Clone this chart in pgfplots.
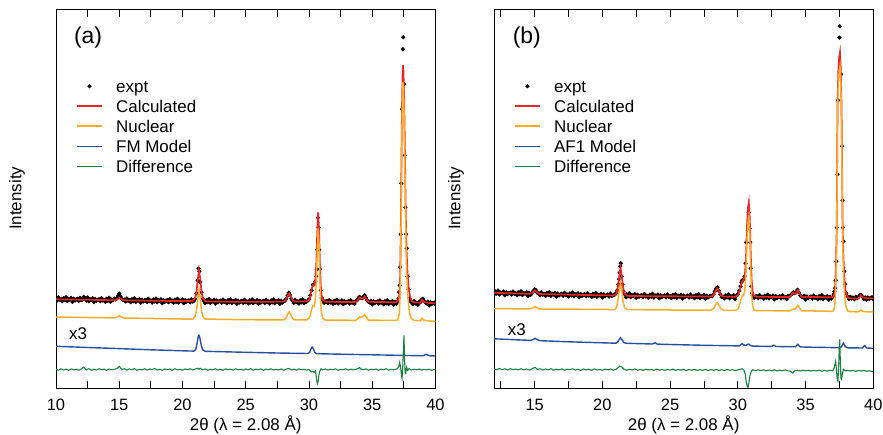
\documentclass[border=0pt]{standalone}
\usepackage{fontspec}
\setmainfont{Liberation Sans}
\usepackage{pgfplots}
\pgfplotsset{compat=1.18}
\definecolor{cred}{RGB}{232,40,40}
\definecolor{corange}{RGB}{255,172,40}
\definecolor{cblue}{RGB}{42,78,158}
\definecolor{cgreen}{RGB}{24,130,64}
\pgfplotsset{
  /pgf/number format/assume math mode=true,
  panel/.style={
    scale only axis, width=379.5bp, height=378.5bp,
    ymin=0, ymax=378.5, xmax=40, ytick=\empty,
    clip marker paths=true,
    xtick pos=both, tick align=inside,
    major tick length=7bp, minor tick length=7bp,
    tick style={black, line width=0.8bp},
    axis line style={black, line width=0.9bp},
    tick label style={font=\fontsize{16.5}{19}\selectfont},
    xticklabel style={yshift=-7bp},
    legend cell align=left,
    legend image code/.code={\draw[##1] (0bp,0bp) -- (25bp,0bp);},
    legend style={at={(0.0527,0.825)}, anchor=north west, draw=none, fill=none,
      inner sep=0pt, row sep=0pt,
      font=\fontsize{17}{20}\selectfont,
      nodes={inner sep=0pt, text height=16bp, text depth=4bp},
      /tikz/every odd column/.append style={column sep=13.3bp}},
  },
  dots/.style={only marks, mark=*, mark size=1.9bp, black,
    legend image code/.code={\draw[##1] plot coordinates {(12.5bp,0bp)};}},
}
\begin{document}
\begin{tikzpicture}
\path[use as bounding box] (-56bp,-46.7bp) rectangle (827bp,388.3bp);
% ---------------- panel (a)
\begin{axis}[panel, xmin=10, xtick={10,15,...,40}, minor xtick={12.5,17.5,...,37.5}]
\addplot[dots] coordinates {(10.0,89.8)(10.1,87.8)(10.2,90.9)(10.3,88.5)(10.4,89.1)(10.5,87.1)(10.6,90.2)(10.7,88.2)(10.8,91.1)(10.9,87.3)(11.0,89.3)(11.1,88.7)(11.2,90.4)(11.3,86.5)(11.4,89.6)(11.5,87.8)(11.6,89.0)(11.7,89.5)(11.8,87.4)(11.9,90.5)(12.0,88.2)(12.1,88.8)(12.2,91.5)(12.3,89.8)(12.4,87.8)(12.5,90.8)(12.6,87.0)(12.7,89.0)(12.8,88.3)(12.9,90.0)(13.0,86.2)(13.1,89.3)(13.2,87.5)(13.3,88.6)(13.4,89.1)(13.5,87.1)(13.6,90.2)(13.7,87.9)(13.8,88.4)(13.9,86.4)(14.0,89.5)(14.1,87.5)(14.2,90.5)(14.3,86.6)(14.4,88.6)(14.5,88.0)(14.6,89.7)(14.7,88.8)(14.8,90.0)(14.9,92.5)(15.0,94.7)(15.1,92.0)(15.2,89.5)(15.3,88.3)(15.4,88.8)(15.5,86.8)(15.6,89.8)(15.7,87.5)(15.8,88.1)(15.9,86.1)(16.0,89.1)(16.1,87.1)(16.2,90.1)(16.3,86.3)(16.4,88.3)(16.5,87.7)(16.6,89.3)(16.7,85.5)(16.8,88.6)(16.9,86.8)(17.0,88.0)(17.1,88.4)(17.2,86.4)(17.3,89.5)(17.4,87.2)(17.5,87.8)(17.6,85.7)(17.7,88.8)(17.8,86.8)(17.9,89.8)(18.0,86.0)(18.1,88.0)(18.2,87.3)(18.3,89.0)(18.4,85.2)(18.5,88.3)(18.6,86.5)(18.7,87.7)(18.8,88.1)(18.9,86.1)(19.0,89.2)(19.1,86.9)(19.2,87.5)(19.3,85.5)(19.4,88.6)(19.5,86.5)(19.6,89.5)(19.7,85.7)(19.8,87.7)(19.9,87.1)(20.0,88.8)(20.1,85.0)(20.2,88.1)(20.3,86.3)(20.4,87.5)(20.5,87.9)(20.6,85.9)(20.7,89.0)(20.8,86.7)(20.9,87.5)(21.0,89.5)(21.1,95)(21.2,108)(21.27,119.7)(21.33,117)(21.4,106)(21.5,96)(21.6,89.5)(21.7,87.1)(21.8,85.2)(21.9,88.3)(22.0,86.3)(22.1,89.3)(22.2,85.4)(22.3,87.4)(22.4,86.8)(22.5,88.5)(22.6,84.7)(22.7,87.8)(22.8,86.0)(22.9,87.1)(23.0,87.6)(23.1,85.6)(23.2,88.7)(23.3,86.4)(23.4,87.0)(23.5,85.0)(23.6,88.1)(23.7,86.0)(23.8,89.0)(23.9,85.2)(24.0,87.2)(24.1,86.6)(24.2,88.3)(24.3,84.5)(24.4,87.6)(24.5,85.8)(24.6,86.9)(24.7,87.4)(24.8,85.4)(24.9,88.5)(25.0,86.2)(25.1,86.8)(25.2,84.8)(25.3,87.9)(25.4,85.9)(25.5,88.9)(25.6,85.1)(25.7,87.1)(25.8,86.5)(25.9,88.2)(26.0,84.4)(26.1,87.5)(26.2,85.7)(26.3,86.9)(26.4,87.4)(26.5,85.4)(26.6,88.5)(26.7,86.2)(26.8,86.8)(26.9,84.8)(27.0,87.9)(27.1,85.9)(27.2,88.9)(27.3,85.1)(27.4,87.1)(27.5,86.5)(27.6,88.2)(27.7,84.4)(27.8,87.5)(27.9,85.7)(28.0,86.9)(28.1,87.5)(28.2,89.5)(28.3,92.5)(28.4,95.5)(28.5,93.5)(28.6,89.5)(28.7,87.5)(28.8,85.4)(28.9,88.5)(29.0,86.2)(29.1,86.8)(29.2,84.8)(29.3,87.9)(29.4,85.9)(29.5,88.9)(29.6,85.1)(29.7,87.1)(29.8,86.5)(29.9,87.5)(30.0,89)(30.1,93)(30.2,98)(30.3,103.5)(30.4,104)(30.5,107)(30.57,112)(30.62,119)(30.66,138.5)(30.7,170.7)(30.76,161)(30.81,138.5)(30.86,119)(30.93,98)(31.0,90.5)(31.1,88)(31.2,85.5)(31.3,86.7)(31.4,87.2)(31.5,85.2)(31.6,88.2)(31.7,85.9)(31.8,86.5)(31.9,84.5)(32.0,87.6)(32.1,85.6)(32.2,88.6)(32.3,84.8)(32.4,86.7)(32.5,86.1)(32.6,87.8)(32.7,84.0)(32.8,87.1)(32.9,85.3)(33.0,86.5)(33.1,87.0)(33.2,84.9)(33.3,88.0)(33.4,85.7)(33.5,86.3)(33.6,84.3)(33.7,87.4)(33.8,88.0)(33.9,89.5)(34.0,91.5)(34.1,90.5)(34.2,90.0)(34.3,91.5)(34.4,93.0)(34.5,90.5)(34.6,88.0)(34.7,86.5)(34.8,85.9)(34.9,87.6)(35.0,83.8)(35.1,86.9)(35.2,85.1)(35.3,86.2)(35.4,86.7)(35.5,84.7)(35.6,87.8)(35.7,85.5)(35.8,86.0)(35.9,84.0)(36.0,87.1)(36.1,85.1)(36.2,88.1)(36.3,84.2)(36.4,86.2)(36.5,85.6)(36.6,87.3)(36.7,83.5)(36.8,86.5)(36.9,84.7)(37.0,87)(37.08,90)(37.12,96)(37.17,103)(37.2,121)(37.25,154)(37.3,205)(37.35,279)(37.42,339)(37.45,351)(37.52,304)(37.57,233)(37.62,181)(37.67,154)(37.72,140)(37.8,112)(37.87,99)(37.95,90)(38.0,87.5)(38.1,86.2)(38.2,84.2)(38.3,87.2)(38.4,84.9)(38.5,85.5)(38.6,83.5)(38.7,86.6)(38.8,86.0)(38.9,88.5)(39.0,89.5)(39.1,87.5)(39.2,85.7)(39.3,85.0)(39.4,86.7)(39.5,82.9)(39.6,86.0)(39.7,84.2)(39.8,85.3)(39.9,85.8)(40.0,83.8)};
\addlegendentry{expt}
\addplot[cred, line width=1.7bp] coordinates {(10,89)(12,88.6)(14,88.2)(14.6,88.1)(14.8,88.6)(15.0,90.3)(15.2,88.6)(15.4,88)(18,87.5)(20,87.2)(20.8,87.2)(21.0,90)(21.1,96)(21.2,108)(21.3,118)(21.4,110)(21.5,97)(21.6,90)(21.8,87.2)(22,86.8)(25,86.5)(28,86.7)(28.15,88)(28.3,92)(28.43,94.7)(28.55,92)(28.7,88)(28.9,86.8)(29.8,86.8)(30.0,88)(30.1,92)(30.2,99)(30.3,103)(30.4,103)(30.5,108)(30.58,125)(30.65,155)(30.72,176)(30.79,160)(30.86,125)(30.93,103)(31.0,93)(31.1,88.5)(31.3,86.5)(33.7,86.2)(33.85,88)(34.0,90.7)(34.15,89.5)(34.25,90)(34.4,92)(34.55,89)(34.7,86.5)(36.9,86)(37.0,87)(37.1,90)(37.15,95)(37.2,110)(37.25,150)(37.3,215)(37.35,280)(37.4,315)(37.43,323)(37.47,316)(37.52,290)(37.57,250)(37.62,200)(37.67,160)(37.72,135)(37.8,112)(37.9,98)(38.0,91)(38.1,87.5)(38.3,85.8)(38.8,85.6)(38.93,88.7)(39.1,86.3)(39.5,85.3)(40,85)};
\addlegendentry{Calculated}
\addplot[corange, line width=1.5bp] coordinates {(10,71.3)(14.6,70.4)(14.8,71)(15.0,72.7)(15.2,71)(15.4,70.3)(20,69.3)(20.8,69.2)(21.0,72)(21.1,77)(21.2,88)(21.3,99)(21.4,90)(21.5,78)(21.6,72)(21.8,69.2)(25,68.6)(28,68.4)(28.15,70)(28.3,74)(28.43,76.5)(28.55,74)(28.7,70)(28.9,68.4)(29.8,68.3)(30.0,70)(30.1,73)(30.2,79)(30.3,82.5)(30.4,82)(30.5,88)(30.58,107)(30.65,138)(30.72,160)(30.79,145)(30.86,108)(30.93,85)(31.0,75)(31.1,70)(31.3,68.2)(33.7,68)(33.85,69.5)(34.0,71.3)(34.15,71)(34.25,71.8)(34.4,73.7)(34.55,70.8)(34.7,68.2)(36.9,67.8)(37.0,68.5)(37.1,72)(37.15,77)(37.2,92)(37.25,132)(37.3,197)(37.35,262)(37.4,298)(37.43,306)(37.47,299)(37.52,273)(37.57,233)(37.62,183)(37.67,143)(37.72,117)(37.8,94)(37.9,80)(38.0,73)(38.1,69.5)(38.3,68)(38.8,67.5)(38.93,70)(39.1,68)(39.5,67.3)(40,67)};
\addlegendentry{Nuclear}
\addplot[cblue, line width=1.4bp] coordinates {(10,42)(12.5,40.8)(15,39.7)(17.5,38.5)(20,37.5)(20.9,37.2)(21.05,39)(21.15,45)(21.25,52)(21.3,53)(21.38,50)(21.48,43)(21.6,38.5)(21.8,37)(25,36)(27.5,35.3)(29.9,34.8)(30.05,36)(30.15,39)(30.25,41.3)(30.35,39.5)(30.45,36)(30.6,34.6)(32.5,34.1)(35,33.5)(37.5,32.9)(39.0,32.5)(39.15,33.3)(39.28,34)(39.4,33.2)(39.55,32.5)(40,32.3)};
\addlegendentry{FM Model}
\addplot[cgreen, line width=1.1bp] coordinates {(10,18.9)(10.2,18.1)(10.4,19.5)(10.6,18.3)(10.8,19.2)(11,18.0)(11.2,19.4)(11.4,18.5)(11.6,19.0)(11.8,18.2)(12.0,19.3)(12.1,20.5)(12.2,21.3)(12.3,19.5)(12.4,18.4)(12.6,19.6)(12.8,18.1)(13,19.1)(13.2,18.3)(13.4,19.5)(13.6,18.6)(13.8,19.2)(14,18.0)(14.2,19.3)(14.4,18.4)(14.6,19.1)(14.8,19.5)(14.9,20.5)(15.0,22)(15.1,20.3)(15.2,18.8)(15.4,19.6)(15.6,18.2)(15.8,19.4)(16,18.5)(16.2,19.7)(16.4,18.1)(16.6,19.0)(16.8,18.4)(17,19.5)(17.2,18.2)(17.4,19.3)(17.6,18.7)(17.8,19.8)(18,18.3)(18.2,19.1)(18.4,18.0)(18.6,19.4)(18.8,18.5)(19,19.3)(19.2,18.1)(19.4,19.6)(19.6,18.4)(19.8,19.0)(20,18.2)(20.2,19.3)(20.4,18.6)(20.6,19.5)(20.8,18.3)(21.0,19.2)(21.2,20.0)(21.3,19.0)(21.4,20.0)(21.6,18.5)(21.8,19.3)(22,18.1)(22.2,19.0)(22.4,18.5)(22.6,19.6)(22.8,18.3)(23,19.2)(23.2,18.0)(23.4,19.4)(23.6,18.6)(23.8,19.1)(24,18.2)(24.2,19.5)(24.4,18.4)(24.6,19.0)(24.8,18.3)(25,19.3)(25.2,18.5)(25.4,19.6)(25.6,18.2)(25.8,19.1)(26,18.6)(26.2,19.4)(26.4,18.0)(26.6,19.2)(26.8,18.5)(27,19.5)(27.2,18.3)(27.4,19.0)(27.6,18.4)(27.8,19.3)(28,18.1)(28.2,19.2)(28.4,19.8)(28.6,18.5)(28.8,19.1)(29,18.2)(29.2,19.4)(29.4,18.6)(29.6,19.0)(29.8,18.3)(30.0,18.8)(30.1,17.5)(30.2,16.5)(30.3,17.0)(30.4,16.0)(30.5,17.5)(30.55,14)(30.6,8)(30.67,4.7)(30.72,7)(30.78,13)(30.85,17)(30.95,19.5)(31.1,18.5)(31.3,19.3)(31.5,18.2)(31.7,19.1)(31.9,18.5)(32.1,19.4)(32.3,18.1)(32.5,19.0)(32.7,18.6)(32.9,19.5)(33.1,18.3)(33.3,19.2)(33.5,18.4)(33.7,19.0)(33.9,20.0)(34.0,20.8)(34.1,19.2)(34.3,18.6)(34.5,19.4)(34.7,18.2)(34.9,19.1)(35.1,18.5)(35.3,19.3)(35.5,18.0)(35.7,19.2)(35.9,18.6)(36.1,19.5)(36.3,18.3)(36.5,19.0)(36.7,18.4)(36.9,19.2)(37.0,19.8)(37.1,22)(37.17,26)(37.25,20)(37.32,12)(37.36,10)(37.42,24)(37.48,45)(37.51,53)(37.55,30)(37.6,16)(37.65,15)(37.72,21)(37.8,18)(37.9,19.6)(38.1,18.3)(38.3,19.2)(38.5,18.5)(38.7,19.3)(38.9,18.2)(39.1,19.0)(39.3,18.4)(39.5,19.1)(39.7,18.0)(39.9,18.8)(40,18.3)};
\addlegendentry{Difference}
\node[font=\fontsize{23}{26}\selectfont] at (axis cs:12.53,351) {(a)};
\node[font=\fontsize{17}{20}\selectfont] at (axis cs:11.74,55) {x3};
\end{axis}
\node[rotate=90, font=\fontsize{17}{20}\selectfont] at (-39bp,190bp) {Intensity};
\node[font=\fontsize{17}{20}\selectfont] at (189.75bp,-36.7bp) {2θ (λ = 2.08 Å)};
% ---------------- panel (b)
\begin{axis}[panel, at={(438bp,0bp)}, width=379.3bp, xmin=12, xtick={15,20,...,40}, minor xtick={12.5,17.5,...,37.5}]
\addplot[dots] coordinates {(12.0,93.7)(12.1,96.8)(12.2,94.7)(12.3,97.7)(12.4,93.8)(12.5,95.8)(12.6,95.2)(12.7,96.8)(12.8,93.0)(12.9,96.0)(13.0,94.2)(13.1,95.4)(13.2,95.8)(13.3,93.8)(13.4,96.8)(13.5,94.5)(13.6,95.1)(13.7,93.0)(13.8,96.1)(13.9,94.0)(14.0,97.0)(14.1,93.2)(14.2,95.1)(14.3,94.5)(14.4,96.1)(14.5,92.3)(14.6,95.4)(14.7,93.5)(14.8,95.5)(14.9,97.0)(15.0,99.0)(15.1,98.0)(15.2,95.5)(15.3,95.0)(15.4,93.0)(15.5,96.1)(15.6,93.7)(15.7,94.3)(15.8,92.3)(15.9,95.3)(16.0,93.3)(16.1,96.3)(16.2,92.4)(16.3,94.4)(16.4,93.8)(16.5,95.5)(16.6,91.6)(16.7,94.7)(16.8,92.9)(16.9,94.0)(17.0,94.5)(17.1,92.5)(17.2,95.5)(17.3,93.2)(17.4,93.8)(17.5,91.8)(17.6,94.8)(17.7,92.8)(17.8,95.8)(17.9,91.9)(18.0,93.9)(18.1,93.3)(18.2,94.9)(18.3,91.1)(18.4,94.2)(18.5,92.3)(18.6,93.5)(18.7,94.0)(18.8,92.0)(18.9,95.0)(19.0,92.7)(19.1,93.3)(19.2,91.2)(19.3,94.3)(19.4,92.3)(19.5,95.3)(19.6,91.5)(19.7,93.5)(19.8,92.9)(19.9,94.6)(20.0,90.8)(20.1,93.9)(20.2,92.1)(20.3,93.2)(20.4,93.7)(20.5,91.7)(20.6,94.8)(20.7,92.5)(20.8,93.0)(20.9,93.5)(21.0,95)(21.1,98)(21.18,104)(21.23,109)(21.28,115.7)(21.32,122)(21.36,125)(21.42,112)(21.48,104)(21.55,97)(21.65,94)(21.75,91.0)(21.8,94.0)(21.9,91.9)(22.0,94.9)(22.1,91.1)(22.2,93.1)(22.3,92.4)(22.4,94.1)(22.5,90.3)(22.6,93.4)(22.7,91.6)(22.8,92.7)(22.9,93.2)(23.0,91.2)(23.1,94.3)(23.2,92.0)(23.3,92.5)(23.4,90.5)(23.5,93.6)(23.6,91.6)(23.7,94.6)(23.8,90.7)(23.9,92.7)(24.0,92.1)(24.1,93.8)(24.2,90.0)(24.3,93.0)(24.4,91.2)(24.5,92.4)(24.6,92.9)(24.7,90.9)(24.8,93.9)(24.9,91.6)(25.0,92.2)(25.1,90.2)(25.2,93.3)(25.3,91.3)(25.4,94.3)(25.5,90.4)(25.6,92.4)(25.7,91.8)(25.8,93.5)(25.9,89.7)(26.0,92.8)(26.1,91.0)(26.2,92.2)(26.3,92.7)(26.4,90.7)(26.5,93.7)(26.6,91.4)(26.7,92.0)(26.8,90.0)(26.9,93.1)(27.0,91.1)(27.1,94.1)(27.2,90.3)(27.3,92.2)(27.4,91.6)(27.5,93.3)(27.6,89.5)(27.7,92.6)(27.8,90.8)(27.9,92.0)(28.0,92.5)(28.1,92.0)(28.2,94.0)(28.3,97.0)(28.4,100.0)(28.5,101.0)(28.6,97.5)(28.7,94.0)(28.8,91.2)(28.9,91.8)(29.0,89.8)(29.1,92.9)(29.2,90.9)(29.3,93.9)(29.4,90.0)(29.5,92.0)(29.6,91.4)(29.7,93.1)(29.8,89.3)(29.9,92.5)(30.0,94)(30.1,97.5)(30.2,102)(30.27,106)(30.33,108)(30.42,109)(30.5,112)(30.57,125)(30.63,146)(30.81,176)(30.86,160)(30.91,146)(30.95,120)(30.99,102)(31.05,95)(31.1,92.5)(31.2,90.5)(31.3,91.7)(31.4,92.2)(31.5,90.2)(31.6,93.2)(31.7,90.9)(31.8,91.5)(31.9,89.5)(32.0,92.6)(32.1,90.6)(32.2,93.6)(32.3,89.8)(32.4,91.8)(32.5,91.2)(32.6,92.8)(32.7,89.0)(32.8,92.1)(32.9,90.3)(33.0,91.5)(33.1,92.0)(33.2,90.0)(33.3,93.1)(33.4,90.7)(33.5,91.3)(33.6,89.3)(33.7,92.4)(33.8,92.0)(33.9,93.5)(34.0,94.5)(34.1,96.0)(34.2,95.0)(34.3,96.0)(34.4,98.5)(34.5,96.0)(34.6,93.0)(34.7,91.5)(34.8,90.9)(34.9,92.6)(35.0,88.8)(35.1,91.9)(35.2,90.1)(35.3,91.2)(35.4,91.7)(35.5,89.7)(35.6,92.8)(35.7,90.5)(35.8,91.0)(35.9,89.0)(36.0,92.1)(36.1,90.1)(36.2,93.1)(36.3,89.2)(36.4,91.2)(36.5,90.6)(36.6,92.3)(36.7,88.5)(36.8,91.5)(36.9,89.7)(37.0,91.5)(37.08,94)(37.13,97)(37.17,100)(37.22,108)(37.27,127)(37.31,160.7)(37.36,214)(37.40,288)(37.5,350.7)(37.53,362)(37.62,314)(37.69,242)(37.73,188)(37.76,160.7)(37.8,147)(37.86,117)(37.92,104)(38.0,95)(38.1,92)(38.2,89.2)(38.3,91.6)(38.4,89.7)(38.5,90.8)(38.6,88.9)(38.7,91.5)(38.8,90.0)(38.9,91.5)(39.0,93.0)(39.1,93.5)(39.2,91.5)(39.3,89.2)(39.4,90.9)(39.5,88.6)(39.6,90.8)(39.7,89.4)(39.8,90.5)(39.9,91.0)(40.0,89.0)};
\addlegendentry{expt}
\addplot[cred, line width=1.7bp] coordinates {(12,95.5)(13,95.1)(14.6,94.5)(14.8,95)(14.93,97)(15.03,98)(15.15,96.5)(15.3,94.6)(15.5,94.2)(18,93.5)(20,93)(20.9,92.8)(21.05,95)(21.15,102)(21.25,113)(21.34,120.7)(21.43,113)(21.53,101)(21.63,95)(21.8,92.6)(22,92.3)(25,92)(28,91.7)(28.2,93)(28.35,97.5)(28.47,100)(28.6,97)(28.75,93)(28.95,91.7)(29.8,91.5)(30.0,93)(30.12,97)(30.22,103)(30.32,107)(30.42,108)(30.52,113)(30.6,130)(30.67,160)(30.74,180)(30.81,186)(30.88,170)(30.95,135)(31.02,108)(31.1,96)(31.2,92.5)(31.4,91.5)(33.8,91.2)(33.93,93)(34.06,95.7)(34.2,94.5)(34.3,95.5)(34.43,98)(34.57,94.5)(34.72,91.5)(37.0,91)(37.1,93)(37.18,100)(37.24,120)(37.3,160)(37.36,285)(37.42,318)(37.48,331)(37.54,336)(37.6,320)(37.65,285)(37.7,220)(37.74,160)(37.8,130)(37.87,110)(37.95,98)(38.05,93)(38.15,90.5)(38.4,89.8)(38.9,89.7)(39.07,93)(39.22,91)(39.5,90.2)(40,90)};
\addlegendentry{Calculated}
\addplot[corange, line width=1.5bp] coordinates {(12,79.7)(14.6,79.4)(14.8,80)(14.93,81)(15.03,81.7)(15.15,80.8)(15.3,79.6)(15.5,79.3)(20,78.9)(20.9,78.7)(21.05,81)(21.15,88)(21.25,98)(21.34,105.5)(21.43,98)(21.53,87)(21.63,81)(21.8,78.7)(25,78.3)(28,78.1)(28.2,79.5)(28.35,83.5)(28.47,85.7)(28.6,83)(28.75,79.5)(28.95,78)(29.8,77.9)(30.0,79.3)(30.12,83)(30.22,88.5)(30.32,92.3)(30.42,93)(30.52,98)(30.6,115)(30.67,145)(30.74,165)(30.81,171.5)(30.88,155)(30.95,120)(31.02,93)(31.1,82)(31.2,78.5)(31.4,77.7)(33.8,77.4)(33.93,78)(34.06,79.2)(34.2,79)(34.3,80.5)(34.43,83)(34.57,80)(34.72,77.5)(37.0,77)(37.1,79)(37.18,86)(37.24,106)(37.3,146)(37.36,271)(37.42,304)(37.48,317)(37.54,322)(37.6,306)(37.65,271)(37.7,206)(37.74,146)(37.8,116)(37.87,96)(37.95,84)(38.05,79)(38.15,77)(38.4,76.6)(38.9,76.5)(39.07,78.3)(39.22,77)(39.5,76.4)(40,76.3)};
\addlegendentry{Nuclear}
\addplot[cblue, line width=1.4bp] coordinates {(12,49.5)(13.5,48.6)(14.7,47.9)(14.9,48.8)(15.03,50)(15.18,48.7)(15.4,47.6)(17.5,46.5)(20,45.5)(21.0,45.1)(21.15,46.5)(21.25,49)(21.34,50.5)(21.45,48.5)(21.6,45.6)(21.8,45)(23.7,44.3)(23.89,45.6)(24.05,44.2)(25,43.8)(27.5,43)(30.1,42.4)(30.22,43.5)(30.32,44.7)(30.45,43.2)(30.6,43)(30.71,43.8)(30.81,44.2)(30.93,42.8)(31.1,42.2)(32.5,41.9)(32.66,43.1)(32.82,41.8)(34.25,41.5)(34.43,44)(34.6,41.4)(35,41.2)(37.5,40.6)(37.65,41.5)(37.79,45.2)(37.93,41.8)(38.1,40.5)(39.2,40.3)(39.37,42.6)(39.52,40.3)(40,40)};
\addlegendentry{AF1 Model}
\addplot[cgreen, line width=1.1bp] coordinates {(12,19.3)(12.2,18.5)(12.4,19.8)(12.6,18.6)(12.8,19.5)(13,18.3)(13.2,19.6)(13.4,18.7)(13.6,19.2)(13.8,18.4)(14,19.5)(14.2,18.6)(14.4,19.3)(14.6,18.2)(14.8,19.4)(14.95,20.5)(15.05,20.8)(15.2,18.9)(15.4,19.5)(15.6,18.3)(15.8,19.3)(16,18.5)(16.2,19.6)(16.4,18.2)(16.6,19.1)(16.8,18.4)(17,19.4)(17.2,18.1)(17.4,19.2)(17.6,18.6)(17.8,19.5)(18,18.2)(18.2,19.0)(18.4,17.9)(18.6,19.3)(18.8,18.4)(19,19.1)(19.2,18.0)(19.4,19.4)(19.6,18.3)(19.8,18.9)(20,18.1)(20.2,19.2)(20.4,18.4)(20.6,19.3)(20.8,18.2)(21.0,19.0)(21.15,20.5)(21.3,22.3)(21.45,21)(21.6,19)(21.8,18.1)(22,19.0)(22.2,18.3)(22.4,19.4)(22.6,18.1)(22.8,18.9)(23,17.9)(23.2,19.1)(23.4,18.3)(23.6,18.9)(23.8,18.0)(24,19.2)(24.2,18.2)(24.4,18.8)(24.6,18.0)(24.8,19.0)(25,18.1)(25.2,19.2)(25.4,17.9)(25.6,18.8)(25.8,18.2)(26,19.0)(26.2,17.7)(26.4,18.8)(26.6,18.1)(26.8,19.0)(27,17.9)(27.2,18.6)(27.4,18.0)(27.6,18.9)(27.8,17.8)(28,18.7)(28.2,18.0)(28.4,18.9)(28.6,17.9)(28.8,18.6)(29,17.7)(29.2,18.8)(29.4,18.0)(29.6,18.5)(29.8,17.8)(30.0,18.4)(30.15,19.0)(30.3,19.5)(30.45,18.0)(30.55,14)(30.62,6)(30.7,1.5)(30.76,1)(30.82,6)(30.9,13)(31.0,17)(31.1,18.5)(31.3,17.6)(31.5,18.5)(31.7,17.7)(31.9,18.4)(32.1,17.5)(32.3,18.3)(32.5,17.6)(32.7,18.5)(32.9,17.4)(33.1,18.2)(33.3,17.5)(33.5,18.4)(33.7,17.6)(33.9,17.0)(34.06,15.3)(34.2,17.5)(34.4,18.0)(34.6,17.3)(34.8,18.2)(35,17.4)(35.2,18.1)(35.4,17.2)(35.6,18.0)(35.8,17.3)(36,18.2)(36.2,17.1)(36.4,17.9)(36.6,17.3)(36.8,18.0)(37.0,17.6)(37.1,20)(37.17,24)(37.22,27)(37.28,18)(37.35,8)(37.39,7)(37.45,25)(37.49,42)(37.52,49)(37.56,30)(37.61,10)(37.66,9)(37.72,15)(37.8,19)(37.9,17.5)(38.1,18.0)(38.3,17.2)(38.5,17.9)(38.7,17.0)(38.9,17.8)(39.1,17.2)(39.3,17.9)(39.5,16.9)(39.7,17.6)(39.9,16.8)(40,17.2)};
\addlegendentry{Difference}
\node[font=\fontsize{23}{26}\selectfont] at (axis cs:14.42,350.7) {(b)};
\node[font=\fontsize{17}{20}\selectfont] at (axis cs:13.68,59) {x3};
\end{axis}
\node[rotate=90, font=\fontsize{17}{20}\selectfont] at (400bp,190bp) {Intensity};
\node[font=\fontsize{17}{20}\selectfont] at (627.65bp,-36.7bp) {2θ (λ = 2.08 Å)};
\end{tikzpicture}
\end{document}
